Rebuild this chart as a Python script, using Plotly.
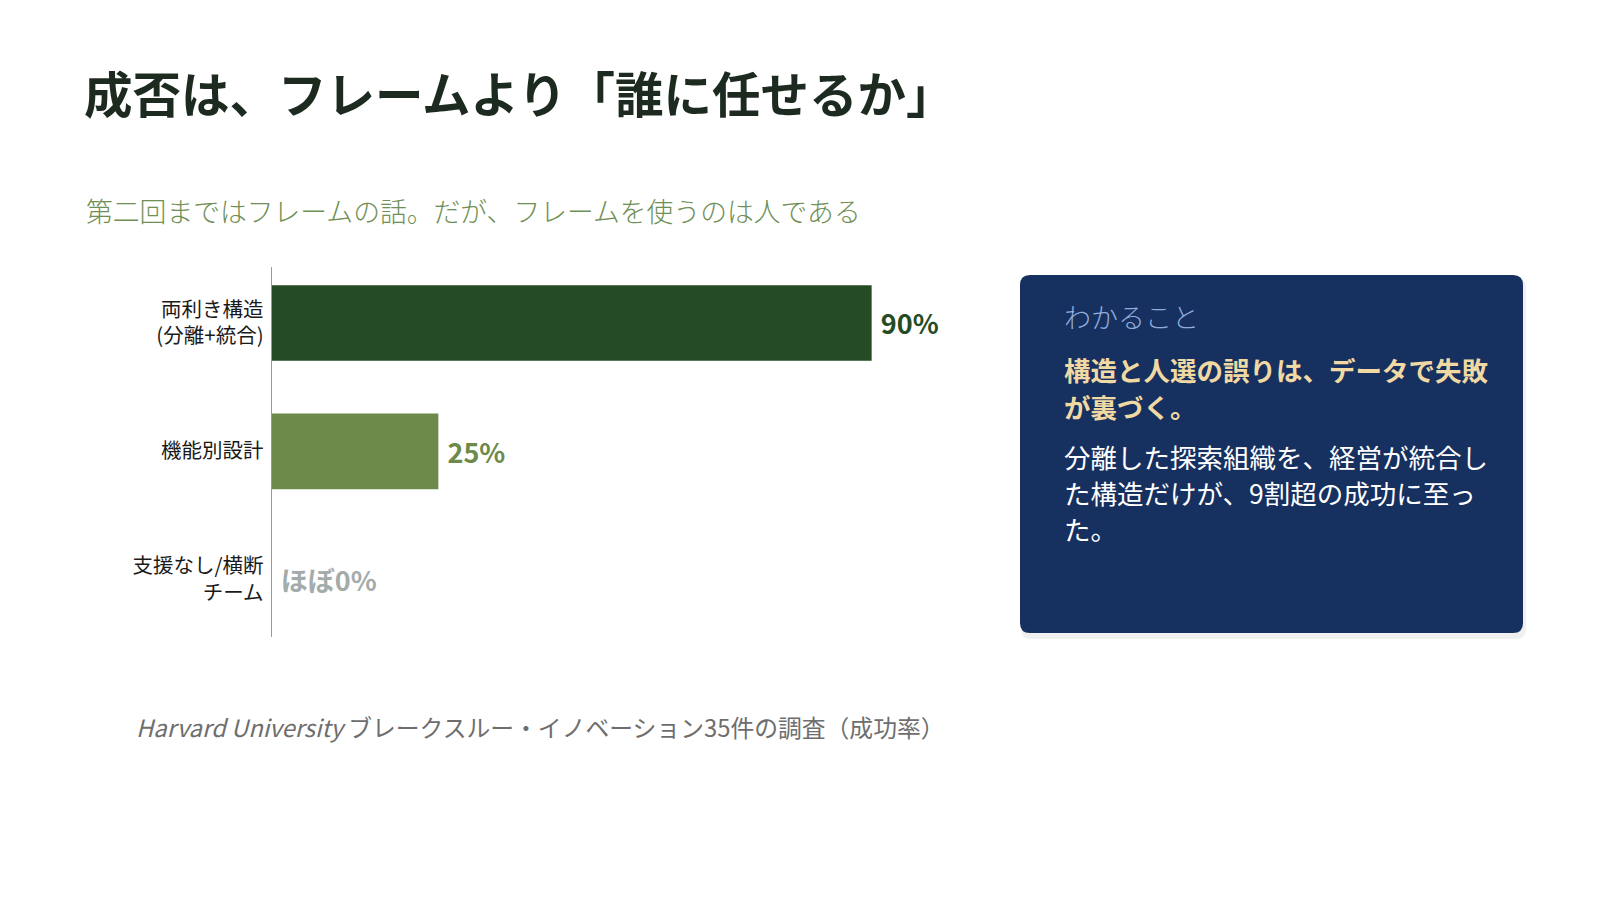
import plotly.graph_objects as go

# chart data
categories = ["両利き構造<br>(分離+統合)", "機能別設計", "支援なし/横断<br>チーム"]
success_rate = [90, 25, 0]
value_labels = ["\u00a090%", "\u00a025%", "\u00a0ほぼ0%"]
bar_colors = ["#244b24", "#6d8a4b", "#a3abab"]

title_text = "成否は、フレームより「誰に任せるか」"
subtitle_text = "第二回まではフレームの話。だが、フレームを使うのは人である"
source_text = "<i>Harvard University</i> ブレークスルー・イノベーション35件の調査（成功率）"
panel_head = "わかること"
panel_bold_lines = ["構造と人選の誤りは、データで失敗", "が裏づく。"]
panel_body_lines = ["分離した探索組織を、経営が統合し", "た構造だけが、9割超の成功に至っ", "た。"]

W, H = 1600, 900
FONT = "Noto Sans CJK JP, Noto Sans, sans-serif"


def px_x(x):
    return x / W


def px_y(y):
    return 1 - y / H


fig = go.Figure()
fig.add_trace(go.Bar(
    y=categories,
    x=success_rate,
    orientation="h",
    width=0.59,
    marker=dict(color=bar_colors, line=dict(width=0)),
    text=value_labels,
    textposition="outside",
    textfont=dict(family=FONT, size=27, color=bar_colors, weight="bold"),
    cliponaxis=False,
    hoverinfo="skip",
))

annotations = [
    dict(x=px_x(74), y=px_y(84), text="<b>" + title_text + "</b>",
         font=dict(family=FONT, size=48.5, color="#1c2a20")),
    dict(x=px_x(76), y=px_y(202), text=subtitle_text,
         font=dict(family=FONT, size=26.8, color="#6f8f55", weight=300)),
    dict(x=px_x(126), y=px_y(718), text=source_text,
         font=dict(family=FONT, size=23.8, color="#6e6e6e")),
    dict(x=px_x(1054), y=px_y(308), text=panel_head,
         font=dict(family=FONT, size=27, color="#92acdc", weight=300)),
]
for i, line in enumerate(panel_bold_lines):
    annotations.append(dict(x=px_x(1054), y=px_y(361 + 37 * i), text="<b>" + line + "</b>",
                            font=dict(family=FONT, size=26.5, color="#f0d9a2")))
for i, line in enumerate(panel_body_lines):
    annotations.append(dict(x=px_x(1054), y=px_y(448 + 36.3 * i), text=line,
                            font=dict(family=FONT, size=26.5, color="#ffffff")))
for a in annotations:
    a.update(xref="paper", yref="paper", xanchor="left", yanchor="middle", showarrow=False)


def rounded_rect(x0, y0, x1, y1, r):
    # paper coords, y up
    return (f"M {x0 + r[0]},{y1} L {x1 - r[0]},{y1} Q {x1},{y1} {x1},{y1 - r[1]} "
            f"L {x1},{y0 + r[1]} Q {x1},{y0} {x1 - r[0]},{y0} "
            f"L {x0 + r[0]},{y0} Q {x0},{y0} {x0},{y0 + r[1]} "
            f"L {x0},{y1 - r[1]} Q {x0},{y1} {x0 + r[0]},{y1} Z")


rad = (10 / W, 10 / H)
shapes = [
    dict(type="path", xref="paper", yref="paper", layer="below",
         path=rounded_rect(px_x(1013), px_y(631), px_x(1518), px_y(270), rad),
         fillcolor="rgba(0,0,0,0.06)", line=dict(width=0)),
    dict(type="path", xref="paper", yref="paper", layer="below",
         path=rounded_rect(px_x(1012), px_y(625), px_x(1515), px_y(267), rad),
         fillcolor="#163060", line=dict(width=0)),
]

fig.update_layout(
    width=W, height=H,
    margin=dict(l=0, r=0, t=0, b=0),
    paper_bgcolor="#ffffff",
    plot_bgcolor="#ffffff",
    showlegend=False,
    annotations=annotations,
    shapes=shapes,
    xaxis=dict(domain=[px_x(263.7), px_x(930.3)], range=[0, 100], visible=False, fixedrange=True),
    yaxis=dict(
        domain=[px_y(628.7), px_y(259.3)],
        range=[2.445, -0.434],
        categoryorder="array", categoryarray=categories,
        showline=True, linecolor="#999999", linewidth=1,
        showgrid=False, zeroline=False, ticks="",
        ticklabelstandoff=3,
        tickfont=dict(family=FONT, size=20.5, color="#1a1a1a"),
        fixedrange=True,
    ),
)

fig.write_html("out.html")
